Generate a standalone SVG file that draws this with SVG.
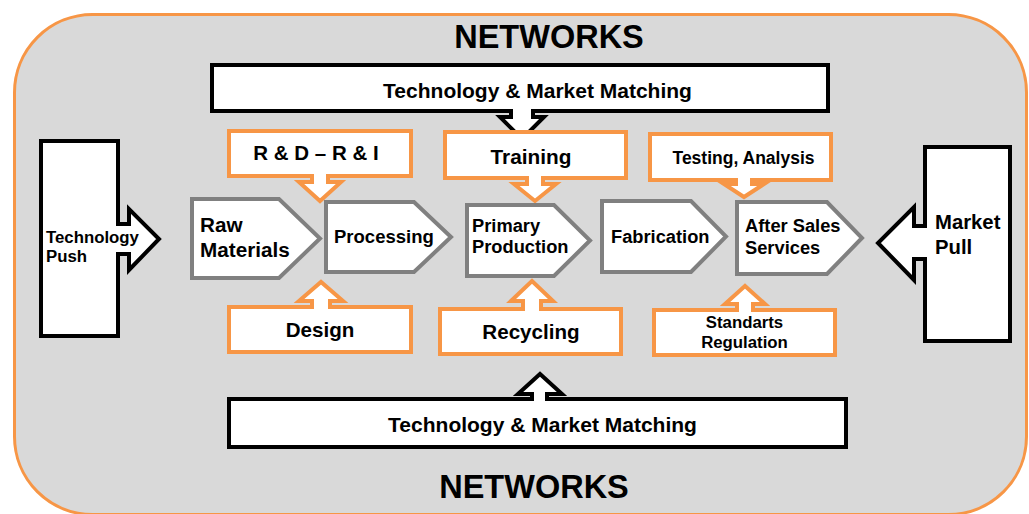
<svg xmlns="http://www.w3.org/2000/svg" width="1029" height="514" viewBox="0 0 1029 514">
  <style>
    text { font-family: "Liberation Sans", Arial, Helvetica, sans-serif; font-weight: bold; fill: #000; }
    .frame { fill: #D9D9D9; stroke: #F79646; stroke-width: 3; }
    .black { fill: #fff; stroke: #000; stroke-width: 4; stroke-linejoin: miter; }
    .orange { fill: #fff; stroke: #F79646; stroke-width: 4; stroke-linejoin: miter; }
    .step { fill: #fff; stroke: #808080; stroke-width: 4; stroke-linejoin: miter; }
    .mid { text-anchor: middle; }
  </style>

  <!-- network frame -->
  <g id="networks">
    <rect class="frame" x="14.5" y="14.5" width="1012" height="500" rx="78" ry="78"/>
    <text class="mid" x="549" y="48" font-size="32.5">NETWORKS</text>
    <text class="mid" x="534" y="498" font-size="32.5">NETWORKS</text>
  </g>

  <!-- block arrows between boxes -->
  <g id="connectors">
    <!-- arrow heads are part of each node outline below -->
  </g>

  <!-- technology & market matching (top) with down arrow -->
  <g id="tmm-top">
    <path class="black" d="M212,65 H828 V111 H533 V117 H544 L522,139 L500,117 H511 V111 H212 Z"/>
    <text class="mid" x="537.5" y="98" font-size="21">Technology &amp; Market Matching</text>
  </g>

  <!-- technology & market matching (bottom) with up arrow -->
  <g id="tmm-bottom">
    <path class="black" d="M229,399 H532 V394 H518 L540,374 L562,394 H547 V399 H846 V447 H229 Z"/>
    <text class="mid" x="542.5" y="432" font-size="21">Technology &amp; Market Matching</text>
  </g>

  <!-- technology push -->
  <g id="tech-push">
    <path class="black" d="M41,141 H118 V224 H129 V209 L159,239 L129,270 V254 H118 V336 H41 Z"/>
    <text x="46" y="243" font-size="16.8">Technology</text>
    <text x="46" y="262" font-size="16.8">Push</text>
  </g>

  <!-- market pull -->
  <g id="market-pull">
    <path class="black" d="M925,147 H1010 V341 H925 V259 H914 V280 L878,243 L914,207 V226 H925 Z"/>
    <text x="935" y="229" font-size="20.3">Market</text>
    <text x="935" y="254" font-size="20.3">Pull</text>
  </g>

  <!-- supporting activities above the chain -->
  <g id="rd-ri">
    <path class="orange" d="M229,131 H411 V176 H328 V182 H341 L320,201 L299,182 H312 V176 H229 Z"/>
    <text class="mid" x="316" y="160" font-size="20.5">R &amp; D – R &amp; I</text>
  </g>
  <g id="training">
    <path class="orange" d="M445,132 H626 V178 H543 V184 H556 L535,201 L514,184 H527 V178 H445 Z"/>
    <text class="mid" x="531" y="164" font-size="20.8">Training</text>
  </g>
  <g id="testing">
    <path class="orange" d="M650,134 H831 V180 H752 V184 H764 L744,197 L724,184 H736 V180 H650 Z"/>
    <text class="mid" x="743.5" y="164" font-size="17.5">Testing, Analysis</text>
  </g>

  <!-- supporting activities below the chain -->
  <g id="design">
    <path class="orange" d="M229,307 H312 V301 H299 L321,282 L343,301 H330 V307 H411 V352 H229 Z"/>
    <text class="mid" x="320" y="337" font-size="20.6">Design</text>
  </g>
  <g id="recycling">
    <path class="orange" d="M440,309 H523 V301 H511 L532,281 L553,301 H541 V309 H621 V354 H440 Z"/>
    <text class="mid" x="531" y="339" font-size="20.6">Recycling</text>
  </g>
  <g id="standarts">
    <path class="orange" d="M654,310 H737 V304 H725 L745,286 L765,304 H753 V310 H835 V355 H654 Z"/>
    <text class="mid" x="744.5" y="328" font-size="16.8">Standarts</text>
    <text class="mid" x="744.5" y="348" font-size="16.8">Regulation</text>
  </g>

  <!-- value chain -->
  <g id="raw-materials">
    <polygon class="step" points="192,199 279,199 320,238.5 279,278 192,278"/>
    <text x="200" y="232" font-size="20.7">Raw</text>
    <text x="200" y="257" font-size="20.7">Materials</text>
  </g>
  <g id="processing">
    <polygon class="step" points="326,202 414,202 451,237 414,272 326,272"/>
    <text x="334" y="243" font-size="18.5">Processing</text>
  </g>
  <g id="primary-production">
    <polygon class="step" points="467,205 554,205 590,240.5 554,276 467,276"/>
    <text x="472" y="232" font-size="18.3">Primary</text>
    <text x="472" y="253" font-size="18.3">Production</text>
  </g>
  <g id="fabrication">
    <polygon class="step" points="602,201 691,201 726,236.5 691,272 602,272"/>
    <text x="611" y="243" font-size="18.3">Fabrication</text>
  </g>
  <g id="after-sales">
    <polygon class="step" points="737,202 827,202 862,238 827,274 737,274"/>
    <text x="745" y="232" font-size="18.3">After Sales</text>
    <text x="745" y="254" font-size="18.3">Services</text>
  </g>
</svg>
